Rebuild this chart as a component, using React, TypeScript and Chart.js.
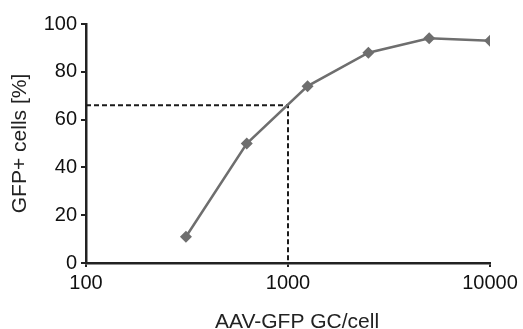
import React, { useEffect, useRef } from "react";
import { Chart, registerables } from "chart.js";

Chart.register(...registerables);

const doses = [312.5, 625, 1250, 2500, 5000, 10000];
const gfpPercent = [11, 50, 74, 88, 94, 93];
const refDose = 1000;
const refPercent = 66;
const xTickValues = [100, 1000, 10000];
const xTitle = "AAV-GFP GC/cell";
const yTitle = "GFP+ cells [%]";

const font = "'Liberation Sans', Arial, sans-serif";

const xTitlePlugin = {
  id: "xTitlePlugin",
  afterDraw(chart: any) {
    const { ctx, chartArea } = chart;
    ctx.save();
    ctx.font = `21px ${font}`;
    ctx.fillStyle = "#222";
    ctx.textAlign = "center";
    ctx.textBaseline = "alphabetic";
    ctx.fillText(xTitle, (chartArea.left + chartArea.right) / 2 + 9, chartArea.bottom + 65);
    ctx.restore();
  },
};

export default function App() {
  const ref = useRef<HTMLCanvasElement | null>(null);
  useEffect(() => {
    document.body.style.margin = "0";
    const ctx = ref.current!.getContext("2d")!;
    const chart = new Chart(ctx, {
      type: "line",
      data: {
        datasets: [
          {
            data: doses.map((d, i) => ({ x: d, y: gfpPercent[i] })),
            borderColor: "#6e6e6e",
            backgroundColor: "#6e6e6e",
            borderWidth: 2.5,
            pointStyle: "rectRot",
            pointRadius: 6,
            pointBorderWidth: 0,
            tension: 0,
          },
          {
            data: [
              { x: 100, y: refPercent },
              { x: refDose, y: refPercent },
              { x: refDose, y: 0 },
            ],
            borderColor: "#1a1a1a",
            borderWidth: 2,
            borderDash: [5, 3],
            pointRadius: 0,
            tension: 0,
          },
        ],
      },
      plugins: [xTitlePlugin],
      options: {
        animation: false,
        responsive: false,
        plugins: { legend: { display: false }, tooltip: { enabled: false } },
        layout: { padding: { top: 24, right: 33, left: 0, bottom: 0 } },
        scales: {
          x: {
            type: "logarithmic",
            min: 100,
            max: 10000,
            afterBuildTicks: (s: any) => {
              s.ticks = xTickValues.map((v) => ({ value: v }));
            },
            afterFit: (s: any) => {
              s.height = 66;
            },
            ticks: {
              color: "#111",
              font: { family: font, size: 20 },
              padding: 4,
              maxRotation: 0,
              autoSkip: false,
              callback: (v: any) => String(v),
            },
            grid: {
              drawOnChartArea: false,
              drawTicks: true,
              tickLength: 4,
              color: "#222",
              lineWidth: 2,
            },
            border: { display: true, color: "#222", width: 2.5 },
          },
          y: {
            min: 0,
            max: 100,
            afterFit: (s: any) => {
              s.width = 86;
            },
            ticks: {
              stepSize: 10,
              color: "#111",
              font: { family: font, size: 20 },
              padding: 4,
              callback: (v: any) => (Number(v) % 20 === 0 ? String(v) : ""),
            },
            grid: {
              drawOnChartArea: false,
              drawTicks: true,
              tickLength: 5,
              color: "#222",
              lineWidth: 2,
            },
            border: { display: true, color: "#222", width: 2.5 },
            title: {
              display: true,
              text: yTitle,
              color: "#222",
              font: { family: font, size: 21 },
              padding: { top: 8, bottom: 0 },
            },
          },
        },
      },
    });
    return () => chart.destroy();
  }, []);
  return (
    <div style={{ width: 523, height: 329 }}>
      <canvas ref={ref} width={523} height={329} />
    </div>
  );
}
